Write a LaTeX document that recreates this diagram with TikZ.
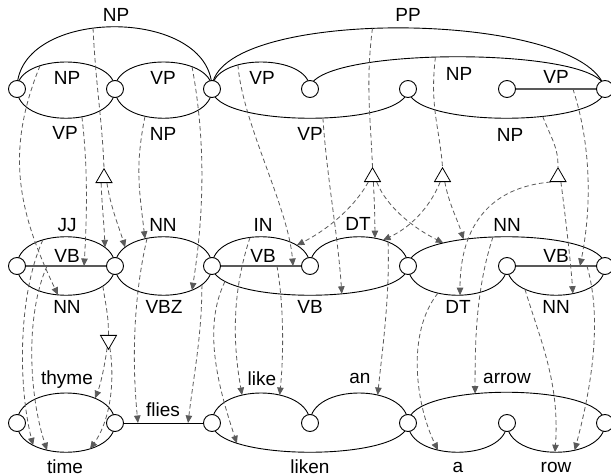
\documentclass[tikz,border=0pt]{standalone}
\usepackage{fontspec}
\setmainfont{Liberation Sans}
\usetikzlibrary{arrows.meta,shapes.geometric}
\pgfdeclarelayer{bg}
\pgfsetlayers{bg,main}
\definecolor{mapgray}{RGB}{90,90,90}
\begin{document}
\begin{tikzpicture}[x=1pt,y=-1pt,
  pt/.style={circle,draw,fill=white,minimum size=17pt,inner sep=0pt,line width=0.9pt},
  arcline/.style={line width=0.9pt},
  barline/.style={line width=1.3pt,draw=black!65},
  lab/.style={inner sep=0pt,font=\fontsize{19}{22}\selectfont},
  tri/.style={regular polygon,regular polygon sides=3,draw,fill=white,minimum size=18.5pt,inner sep=0pt,line width=0.8pt},
  link/.style={draw=mapgray,line width=0.8pt,dash pattern=on 4.5pt off 3pt},
  linkarrow/.style={link,-{Triangle[length=7.5pt,width=6.5pt]}}
]
\useasboundingbox (0,0) rectangle (611,476);
\foreach \i/\x in {0/17,1/115,2/212,3/310,4/408,5/507,6/605}{
  \node[pt] (t\i) at (\x,89) {};
  \node[pt] (m\i) at (\x,266) {};
  \node[pt] (b\i) at (\x,423) {};
}
\node[tri] (T1) at (104,178) {};
\node[tri] (T2) at (372.5,177) {};
\node[tri] (T3) at (442.5,177) {};
\node[tri] (T4) at (558,177) {};
\node[tri,shape border rotate=180] (T5) at (108.5,340) {};

\begin{pgfonlayer}{bg}
% top row
\draw[arcline] (t0.center) .. controls +(0,-36) and +(0,-36) .. (t1.center) coordinate[pos=0.315] (As);
\draw[arcline] (t0.center) .. controls +(0,39) and +(0,39) .. (t1.center) coordinate[pos=0.61] (Bs);
\draw[arcline] (t0.center) .. controls +(0,-83) and +(0,-83) .. (t2.center) coordinate[pos=0.426] (Cs);
\draw[arcline] (t1.center) .. controls +(0,-36) and +(0,-36) .. (t2.center) coordinate[pos=0.708] (Ds);
\draw[arcline] (t1.center) .. controls +(0,39) and +(0,39) .. (t2.center) coordinate[pos=0.37] (Es);
\draw[arcline] (t2.center) .. controls +(0,-36) and +(0,-36) .. (t3.center) coordinate[pos=0.337] (Fs);
\draw[arcline] (t2.center) .. controls +(0,39) and +(0,39) .. (t4.center) coordinate[pos=0.544] (Hs);
\draw[arcline] (t2.center) .. controls +(0,-83) and +(-20,-80) .. (t6.center) coordinate[pos=0.45] (Is);
\draw[arcline] (t3.center) .. controls +(0,-43) and +(0,-43) .. (t6.center) coordinate[pos=0.45] (Js);
\draw[arcline] (t4.center) .. controls +(0,39) and +(0,39) .. (t6.center) coordinate[pos=0.625] (Ks);
\draw[barline] (t5.center) -- (t6.center) coordinate[pos=0.673] (Ls);
% middle row
\draw[arcline] (m0.center) .. controls +(0,-39) and +(0,-39) .. (m1.center) coordinate[pos=0.802] (T1a) coordinate[pos=0.337] (M1s);
\draw[barline] (m0.center) -- (m1.center) coordinate[pos=0.684] (Be) coordinate[pos=0.306] (M2s);
\draw[arcline] (m0.center) .. controls +(0,39) and +(0,39) .. (m1.center) coordinate[pos=0.445] (Ae) coordinate[pos=0.78] (M3s);
\draw[arcline] (m1.center) .. controls +(0,-39) and +(0,-39) .. (m2.center) coordinate[pos=0.2] (T1b) coordinate[pos=0.37] (Ee) coordinate[pos=0.385] (M4s);
\draw[arcline] (m1.center) .. controls +(0,39) and +(0,39) .. (m2.center) coordinate[pos=0.708] (De) coordinate[pos=0.8] (M5s);
\draw[arcline] (m2.center) .. controls +(0,-39) and +(0,-39) .. (m3.center) coordinate[pos=0.77] (T2a) coordinate[pos=0.425] (M6s);
\draw[barline] (m2.center) -- (m3.center) coordinate[pos=0.827] (Fe) coordinate[pos=0.663] (M7s);
\draw[arcline] (m2.center) .. controls +(0,39) and +(0,39) .. (m4.center) coordinate[pos=0.61] (He) coordinate[pos=0.157] (M8s);
\draw[arcline] (m3.center) .. controls +(0,-39) and +(0,-39) .. (m4.center) coordinate[pos=0.61] (T2b) coordinate[pos=0.67] (T3a) coordinate[pos=0.71] (M9s);
\draw[arcline] (m4.center) .. controls +(0,-39) and +(0,-39) .. (m6.center) coordinate[pos=0.27] (T2c) coordinate[pos=0.35] (T3b) coordinate[pos=0.454] (M11s);
\draw[arcline] (m4.center) .. controls +(0,39) and +(0,39) .. (m5.center) coordinate[pos=0.517] (T4a) coordinate[pos=0.365] (M10s);
\draw[barline] (m5.center) -- (m6.center) coordinate[pos=0.745] (Le) coordinate[pos=0.816] (M12s);
\draw[arcline] (m5.center) .. controls +(0,39) and +(0,39) .. (m6.center) coordinate[pos=0.617] (T4b) coordinate[pos=0.273] (M13s);
% bottom row
\draw[arcline] (b0.center) .. controls +(0,-40) and +(0,-40) .. (b1.center) coordinate[pos=0.71] (T5a);
\draw[arcline] (b0.center) .. controls +(0,39) and +(0,39) .. (b1.center) coordinate[pos=0.257] (M1e) coordinate[pos=0.368] (M2e) coordinate[pos=0.67] (T5b);
\draw[arcline] (b1.center) -- (b2.center) coordinate[pos=0.237] (M4e) coordinate[pos=0.753] (M5e);
\draw[arcline] (b2.center) .. controls +(0,-40) and +(0,-40) .. (b3.center) coordinate[pos=0.368] (M6e) coordinate[pos=0.63] (M7e);
\draw[arcline] (b2.center) .. controls +(0,39) and +(0,39) .. (b4.center) coordinate[pos=0.223] (M8e);
\draw[arcline] (b3.center) .. controls +(0,-40) and +(0,-40) .. (b4.center) coordinate[pos=0.63] (M9e);
\draw[arcline] (b4.center) .. controls +(0,-41) and +(0,-41) .. (b6.center) coordinate[pos=0.392] (M11e);
\draw[arcline] (b4.center) .. controls +(0,39) and +(0,39) .. (b5.center) coordinate[pos=0.365] (M10e);
\draw[arcline] (b5.center) .. controls +(0,39) and +(0,39) .. (b6.center) coordinate[pos=0.493] (M13e) coordinate[pos=0.63] (M12e);

% top -> middle
\draw[linkarrow] (As) .. controls +(-35,86) and +(-40,-84) .. (Ae);
\draw[linkarrow] (Bs) .. controls +(6,50) and +(3,-50) .. (Be);
\draw[link] (Cs) .. controls +(3,60) and +(-2,-50) .. (T1.90);
\draw[linkarrow] (T1.-120) .. controls +(1,25) and +(-1,-25) .. (T1a);
\draw[linkarrow] (T1.-60) .. controls +(4,25) and +(-6,-20) .. (T1b);
\draw[linkarrow] (Ds) .. controls +(14,75) and +(12,-75) .. (De);
\draw[linkarrow] (Es) .. controls +(-10,50) and +(-6,-50) .. (Ee);
\draw[linkarrow] (Fs) .. controls +(5,60) and +(-5,-60) .. (Fe);
\draw[linkarrow] (Hs) .. controls +(4,60) and +(-4,-60) .. (He);
\draw[link] (Is) .. controls +(-7,55) and +(-2,-50) .. (T2.90);
\draw[linkarrow] (T2.-130) .. controls +(-12,22) and +(35,-18) .. (T2a);
\draw[linkarrow] (T2.-80) .. controls +(1,20) and +(0,-20) .. (T2b);
\draw[linkarrow] (T2.-50) .. controls +(10,25) and +(-30,-15) .. (T2c);
\draw[link] (Js) .. controls +(-6,50) and +(-3,-40) .. (T3.90);
\draw[linkarrow] (T3.-115) .. controls +(-8,20) and +(32,-15) .. (T3a);
\draw[linkarrow] (T3.-65) .. controls +(4,22) and +(-6,-20) .. (T3b);
\draw[link] (Ks) .. controls +(10,25) and +(0,-20) .. (T4.90);
\draw[linkarrow] (T4.-145) .. controls +(-60,5) and +(0,-70) .. (T4a);
\draw[linkarrow] (T4.-60) .. controls +(4,30) and +(-2,-30) .. (T4b);
\draw[linkarrow] (Ls) .. controls +(18,55) and +(12,-60) .. (Le);
% middle -> bottom
\draw[linkarrow] (M1s) .. controls +(-25,55) and +(-15,-60) .. (M1e);
\draw[linkarrow] (M2s) .. controls +(-22,50) and +(-18,-55) .. (M2e);
\draw[link] (M3s) .. controls +(3,20) and +(0,-20) .. (T5.90);
\draw[linkarrow] (T5.-100) .. controls +(-2,15) and +(6,-15) .. (T5a);
\draw[linkarrow] (T5.-80) .. controls +(6,40) and +(18,-25) .. (T5b);
\draw[linkarrow] (M4s) .. controls +(-14,60) and +(-6,-60) .. (M4e);
\draw[linkarrow] (M5s) .. controls +(0,50) and +(6,-50) .. (M5e);
\draw[linkarrow] (M6s) .. controls +(-20,60) and +(-8,-45) .. (M6e);
\draw[linkarrow] (M7s) .. controls +(7,40) and +(4,-40) .. (M7e);
\draw[linkarrow] (M8s) .. controls +(-22,45) and +(-20,-60) .. (M8e);
\draw[linkarrow] (M9s) .. controls +(2,55) and +(4,-40) .. (M9e);
\draw[linkarrow] (M10s) .. controls +(-32,40) and +(-22,-45) .. (M10e);
\draw[linkarrow] (M11s) .. controls +(-18,55) and +(0,-45) .. (M11e);
\draw[linkarrow] (M12s) .. controls +(16,55) and +(16,-60) .. (M12e);
\draw[linkarrow] (M13s) .. controls +(15,50) and +(5,-70) .. (M13e);
\end{pgfonlayer}

% labels top row
\node[lab] (lNPbig) at (116,15) {NP};
\node[lab] (lNP01) at (67,78) {NP};
\node[lab] (lVP12) at (163,78) {VP};
\node[lab] (lVP01) at (65,133) {VP};
\node[lab] (lNP12) at (163,134) {NP};
\node[lab] (lVP23) at (262,78) {VP};
\node[lab] (lVP24) at (310,134) {VP};
\node[lab] (lPP) at (408,15) {PP};
\node[lab] (lNP36) at (459,74) {NP};
\node[lab] (lVP56) at (556,77) {VP};
\node[lab] (lNP46) at (510,135) {NP};
% labels middle row
\node[lab] (lJJ) at (67,225) {JJ};
\node[lab] (lVB01) at (67,256) {VB};
\node[lab] (lNN01) at (67,307) {NN};
\node[lab] (lNN12) at (163,225) {NN};
\node[lab] (lVBZ) at (164,307) {VBZ};
\node[lab] (lIN) at (263,225) {IN};
\node[lab] (lVB23) at (263,256) {VB};
\node[lab] (lVB24) at (310,307) {VB};
\node[lab] (lDT34) at (358,224) {DT};
\node[lab] (lNN46) at (507,225) {NN};
\node[lab] (lVB56) at (556,256) {VB};
\node[lab] (lDT45) at (458,307) {DT};
\node[lab] (lNN56) at (556,307) {NN};
% words
\node[lab] (wthyme) at (67,380) {thyme};
\node[lab] (wtime) at (65,466.5) {time};
\node[lab] (wflies) at (163,410) {flies};
\node[lab] (wlike) at (262,379) {like};
\node[lab] (wliken) at (310,466.5) {liken};
\node[lab] (wan) at (360,378.5) {an};
\node[lab] (warrow) at (507,378.5) {arrow};
\node[lab] (wa) at (458,467) {a};
\node[lab] (wrow) at (556,467) {row};
\end{tikzpicture}
\end{document}
